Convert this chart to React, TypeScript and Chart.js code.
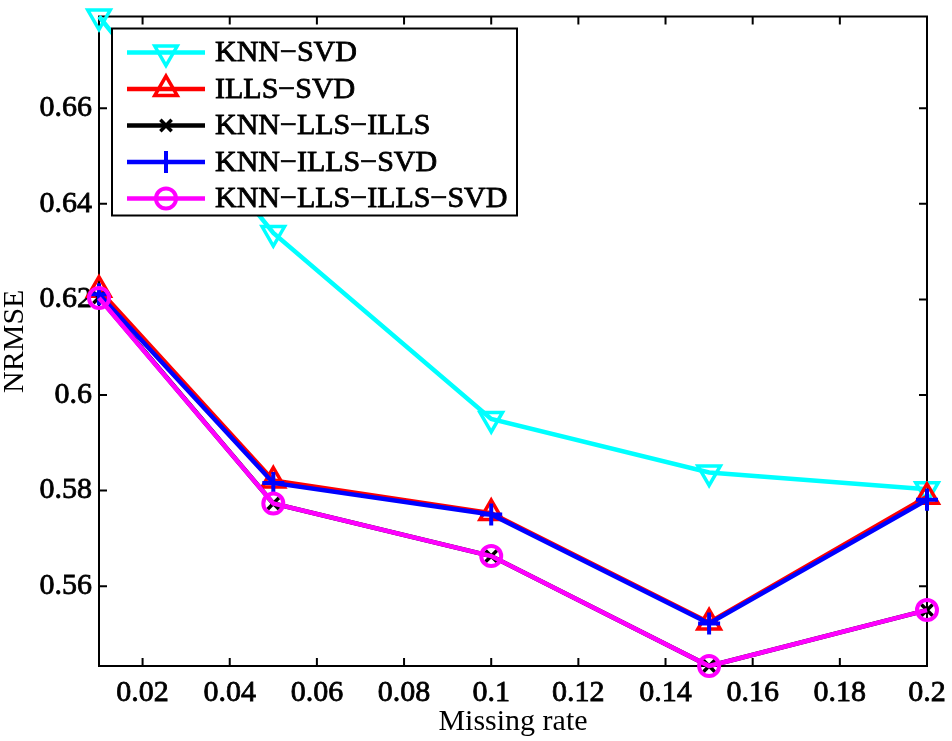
import { useEffect, useRef } from "react";
import { Chart, registerables } from "chart.js";
import { drawPoint } from "chart.js/helpers";

Chart.register(...registerables);

// ---- data ----
const missingRates = [0.01, 0.05, 0.1, 0.15, 0.2];
const knnSvd = [0.6792, 0.6339, 0.595, 0.5838, 0.5803];
const illsSvd = [0.622, 0.5821, 0.5753, 0.5524, 0.5787];
const knnLlsIlls = [0.6204, 0.5773, 0.5663, 0.5433, 0.555];
const knnIllsSvd = [0.6211, 0.5816, 0.575, 0.5522, 0.5781];
const knnLlsIllsSvd = [0.6203, 0.5773, 0.5663, 0.5433, 0.555];
const seriesNames = ["KNN−SVD", "ILLS−SVD", "KNN−LLS−ILLS", "KNN−ILLS−SVD", "KNN−LLS−ILLS−SVD"];
const xTickValues = [0.02, 0.04, 0.06, 0.08, 0.1, 0.12, 0.14, 0.16, 0.18, 0.2];
const xTickLabels = ["0.02", "0.04", "0.06", "0.08", "0.1", "0.12", "0.14", "0.16", "0.18", "0.2"];
const yTickValues = [0.56, 0.58, 0.6, 0.62, 0.64, 0.66];
const yTickLabels = ["0.56", "0.58", "0.6", "0.62", "0.64", "0.66"];
const xRange = [0.01, 0.2];
const yRange = [0.5433, 0.6792];
const xTitle = "Missing rate";
const yTitle = "NRMSE";

// ---- styles ----
const FONT = "'Liberation Serif', 'Times New Roman', serif";
const seriesColors = ["#00ffff", "#ff0000", "#000000", "#0000ff", "#ff00ff"];
const seriesMarkers = [
  { style: "triangle", rotation: 180, radius: 13, width: 3.5 },
  { style: "triangle", rotation: 0, radius: 13, width: 3.5 },
  { style: "crossRot", rotation: 0, radius: 8, width: 3.5 },
  { style: "cross", rotation: 0, radius: 11, width: 4 },
  { style: "circle", rotation: 0, radius: 10, width: 4 },
];

const allSeries = [knnSvd, illsSvd, knnLlsIlls, knnIllsSvd, knnLlsIllsSvd];

const framePlugin = {
  id: "frame",
  beforeDatasetsDraw(chart: any) {
    const { ctx, chartArea } = chart;
    const { left, top, right, bottom } = chartArea;
    const xs = chart.scales.x;
    const ys = chart.scales.y;
    const tl = 8;
    ctx.save();
    ctx.strokeStyle = "#000";
    ctx.lineWidth = 2;
    ctx.strokeRect(left, top, right - left, bottom - top);
    ctx.beginPath();
    for (const v of xTickValues) {
      const px = xs.getPixelForValue(v);
      ctx.moveTo(px, bottom);
      ctx.lineTo(px, bottom - tl);
      ctx.moveTo(px, top);
      ctx.lineTo(px, top + tl);
    }
    for (const v of yTickValues) {
      const py = ys.getPixelForValue(v);
      ctx.moveTo(left, py);
      ctx.lineTo(left + tl, py);
      ctx.moveTo(right, py);
      ctx.lineTo(right - tl, py);
    }
    ctx.stroke();
    ctx.restore();
  },
};

const legendPlugin = {
  id: "innerLegend",
  afterDatasetsDraw(chart: any) {
    const { ctx, chartArea } = chart;
    const bx = chartArea.left + 13;
    const by = chartArea.top + 12;
    const bw = 405;
    const bh = 187;
    ctx.save();
    ctx.fillStyle = "#fff";
    ctx.fillRect(bx, by, bw, bh);
    ctx.strokeStyle = "#000";
    ctx.lineWidth = 2;
    ctx.strokeRect(bx, by, bw, bh);
    const ds = chart.data.datasets;
    for (let i = 0; i < ds.length; i++) {
      const d = ds[i];
      const y = by + 24 + i * 36.5;
      const x0 = bx + 15;
      const x1 = bx + 93;
      const mx = (x0 + x1) / 2;
      ctx.strokeStyle = d.borderColor;
      ctx.lineWidth = d.borderWidth;
      ctx.beginPath();
      ctx.moveTo(x0, y);
      ctx.lineTo(x1, y);
      ctx.stroke();
      ctx.fillStyle = "rgba(0,0,0,0)";
      ctx.strokeStyle = d.pointBorderColor;
      ctx.lineWidth = d.pointBorderWidth;
      drawPoint(ctx, {
        pointStyle: d.pointStyle,
        rotation: d.pointRotation,
        radius: d.pointRadius,
        borderWidth: d.pointBorderWidth,
      } as any, mx, y);
      ctx.fillStyle = "#000";
      ctx.strokeStyle = "#000";
      ctx.lineWidth = 0.8;
      ctx.font = `30px ${FONT}`;
      ctx.textBaseline = "middle";
      ctx.textAlign = "left";
      ctx.fillText(d.label, bx + 103, y + 1);
      ctx.strokeText(d.label, bx + 103, y + 1);
    }
    ctx.restore();
  },
};

export default function App() {
  const ref = useRef<HTMLCanvasElement | null>(null);
  useEffect(() => {
    document.body.style.margin = "0";
    const canvas = ref.current;
    if (!canvas) return;
    const datasets = allSeries.map((vals, i) => ({
      label: seriesNames[i],
      data: missingRates.map((x, j) => ({ x, y: vals[j] })),
      borderColor: seriesColors[i],
      borderWidth: 4.5,
      pointStyle: seriesMarkers[i].style,
      pointRotation: seriesMarkers[i].rotation,
      pointRadius: seriesMarkers[i].radius,
      pointBorderWidth: seriesMarkers[i].width,
      pointBorderColor: seriesColors[i],
      pointBackgroundColor: "rgba(0,0,0,0)",
      fill: false,
      tension: 0,
      clip: false as any,
      order: allSeries.length - i,
    }));
    const chart = new Chart(canvas, {
      type: "line",
      data: { datasets },
      plugins: [framePlugin, legendPlugin],
      options: {
        animation: false,
        responsive: false,
        events: [],
        layout: { padding: { top: 15, right: 25, left: 0, bottom: 0 } },
        plugins: { legend: { display: false }, tooltip: { enabled: false } },
        scales: {
          x: {
            type: "linear",
            min: xRange[0],
            max: xRange[1],
            grid: { display: false, drawTicks: false },
            border: { display: false },
            afterBuildTicks: (s: any) => {
              s.ticks = xTickValues.map((v) => ({ value: v }));
            },
            afterFit: (s: any) => {
              s.height = 75;
              s.paddingLeft = 0;
              s.paddingRight = 0;
            },
            ticks: {
              autoSkip: false,
              maxRotation: 0,
              padding: 9,
              color: "#000",
              textStrokeColor: "#000",
              textStrokeWidth: 0.8,
              font: { family: FONT, size: 30 },
              callback: (_v: any, i: number) => xTickLabels[i],
            },
            title: {
              display: true,
              text: xTitle,
              color: "#000",
              font: { family: FONT, size: 30, lineHeight: 1 },
              padding: { top: 0, bottom: 4 },
            },
          },
          y: {
            type: "linear",
            min: yRange[0],
            max: yRange[1],
            grid: { display: false, drawTicks: false },
            border: { display: false },
            afterBuildTicks: (s: any) => {
              s.ticks = yTickValues.map((v) => ({ value: v }));
            },
            afterFit: (s: any) => {
              s.width = 99;
              s.paddingTop = 0;
              s.paddingBottom = 0;
            },
            ticks: {
              autoSkip: false,
              padding: 7,
              color: "#000",
              textStrokeColor: "#000",
              textStrokeWidth: 0.8,
              font: { family: FONT, size: 30 },
              callback: (_v: any, i: number) => yTickLabels[i],
            },
            title: {
              display: true,
              text: yTitle,
              color: "#000",
              font: { family: FONT, size: 30, lineHeight: 1 },
              padding: { top: 0, bottom: 0 },
            },
          },
        },
      } as any,
    });
    return () => chart.destroy();
  }, []);
  return (
    <div style={{ width: 952, height: 741, background: "#fff" }}>
      <canvas ref={ref} width={952} height={741} style={{ display: "block" }} />
    </div>
  );
}
